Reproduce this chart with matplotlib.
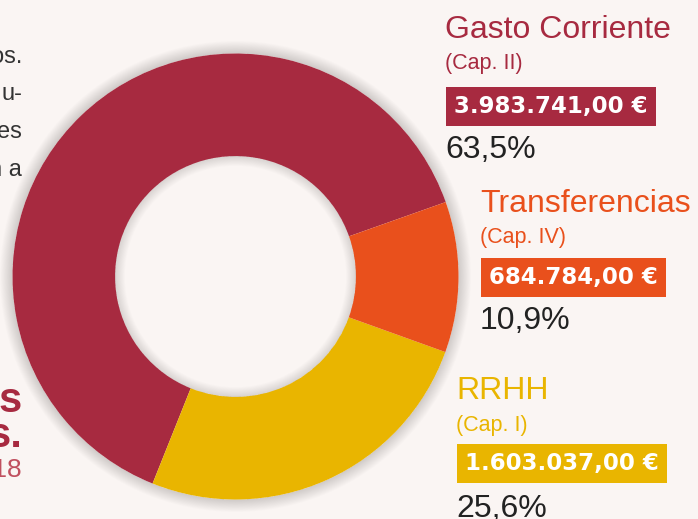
import numpy as np
import matplotlib
matplotlib.use('Agg')
import matplotlib.pyplot as plt
from matplotlib.patches import Wedge

# budget split by chapter
categories = ['Gasto Corriente', 'RRHH', 'Transferencias']
chapters = ['(Cap. II)', '(Cap. I)', '(Cap. IV)']
amounts = [3983741.00, 1603037.00, 684784.00]
shares = [63.5, 25.6, 10.9]
colors = ['#A72A40', '#E9B500', '#E9501C']

BG = '#FAF5F3'
W, H = 698, 519


def fx(px):
    return px / W


def fy(py):
    return 1 - py / H


def euro(v):
    s = f'{v:,.2f}'
    return s.replace(',', 'X').replace('.', ',').replace('X', '.') + ' €'


def pct(v):
    return f'{v:.1f}'.replace('.', ',') + '%'


fig = plt.figure(figsize=(W / 100, H / 100), dpi=100, facecolor=BG)

# donut, centre (235.5, 276.5) px, outer radius 223 px
cx, cy, r = 235.5, 276.5, 223
lim = 1.12
size = 2 * lim * r
ax = fig.add_axes([fx(cx - size / 2), fy(cy + size / 2), size / W, size / H])
ax.set_facecolor(BG)

hole = 0.54
ax.pie(amounts, colors=colors, startangle=19.5, counterclock=True, radius=1,
       wedgeprops=dict(width=1 - hole, linewidth=0))

# soft shadow outside the ring and inside the hole
for k in range(1, 15):
    ax.add_patch(Wedge((0, 0), 1 + k * 0.004, 0, 360, width=k * 0.004, color='black',
                       alpha=0.011, lw=0, zorder=0))
for k in range(1, 12):
    ax.add_patch(Wedge((0, 0), hole, 0, 360, width=k * 0.004, color='black', alpha=0.011,
                       lw=0, zorder=5))

ax.set_xlim(-lim, lim)
ax.set_ylim(-lim, lim)
ax.set_aspect('equal')
ax.axis('off')

# labels on the right
label_pos = {
    'Gasto Corriente': dict(x=445, title=38, cap=69, box=113, pct=158),
    'Transferencias': dict(x=480, title=212, cap=243, box=284, pct=329),
    'RRHH': dict(x=456, title=399, cap=431, box=470, pct=517),
}
sans = 'Liberation Sans'
for name, chap, amt, sh, col in zip(categories, chapters, amounts, shares, colors):
    p = label_pos[name]
    fig.text(fx(p['x']), fy(p['title']), name, color=col, fontsize=23, family=sans,
             va='baseline', ha='left')
    fig.text(fx(p['x']), fy(p['cap']), chap, color=col, fontsize=15.5, family=sans,
             va='baseline', ha='left')
    fig.text(fx(p['x'] + 9), fy(p['box']), euro(amt), color='white', fontsize=16.5,
             family='DejaVu Sans', fontweight='bold', va='baseline', ha='left',
             bbox=dict(boxstyle='square,pad=0.35', fc=col, ec='none'))
    fig.text(fx(p['x']), fy(p['pct']), pct(sh), color='#222222', fontsize=23, family=sans,
             va='baseline', ha='left')

# cropped text on the left edge
body = ['os.', 'u-', 'es', 'n a']
for i, t in enumerate(body):
    fig.text(fx(22), fy(63 + i * 37.5), t, color='#333333', fontsize=17, family=sans,
             ha='right', va='baseline')
fig.text(fx(22), fy(412), 's', color='#A72A40', fontsize=30, family=sans,
         fontweight='bold', ha='right', va='baseline')
fig.text(fx(22), fy(447), 's.', color='#A72A40', fontsize=30, family=sans,
         fontweight='bold', ha='right', va='baseline')
fig.text(fx(22), fy(477), '2018', color='#C0505F', fontsize=19, family=sans,
         ha='right', va='baseline')

fig.savefig('out.png', dpi=100, facecolor=BG)
